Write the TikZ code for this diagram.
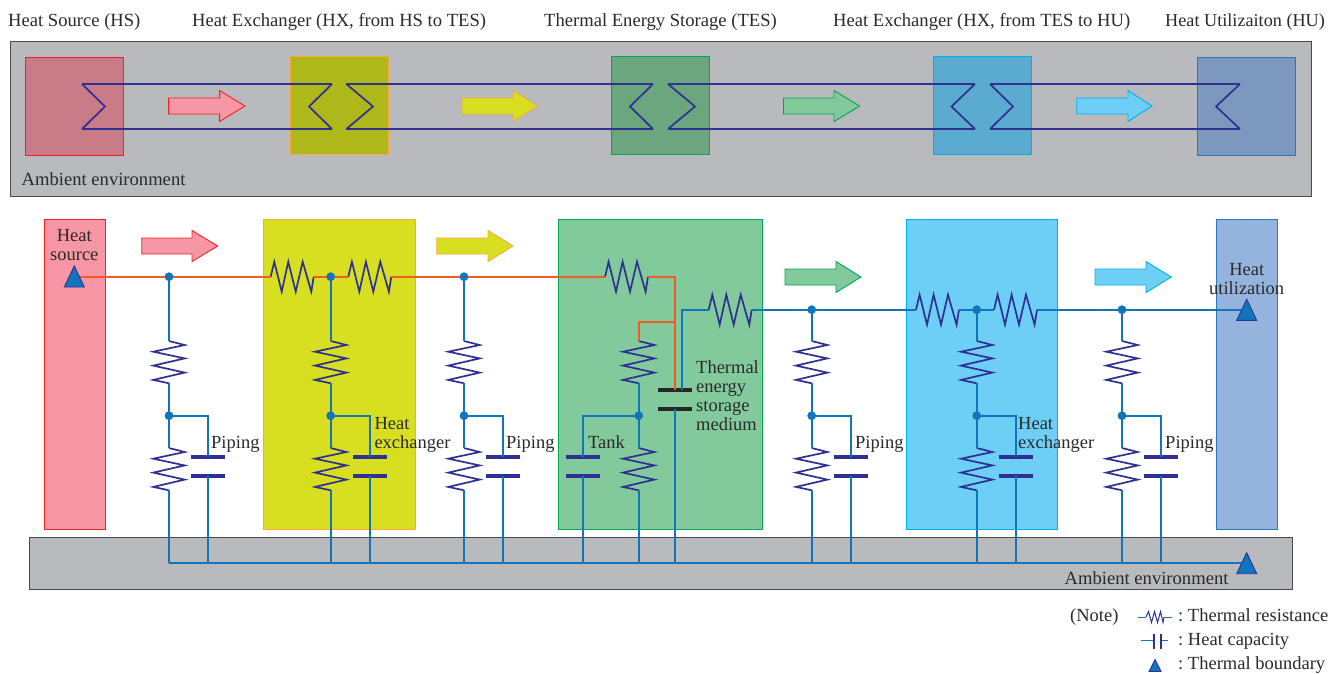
\documentclass[tikz,border=0pt]{standalone}
\usepackage{fontspec}
\setmainfont{Liberation Serif}
\usetikzlibrary{calc}
\definecolor{amb}{HTML}{B9BABE}
\definecolor{ambl}{HTML}{4A4A4C}
\definecolor{zigc}{HTML}{2E3192}
\definecolor{wireb}{HTML}{1175BC}
\definecolor{wireo}{HTML}{F15A29}
\definecolor{txt}{HTML}{2B2A2A}
\definecolor{pk}{HTML}{F797A5}\definecolor{pkl}{HTML}{ED2224}
\definecolor{yl}{HTML}{D7DF20}\definecolor{yll}{HTML}{F9A83B}
\definecolor{gn}{HTML}{82CA9C}\definecolor{gnl}{HTML}{00A651}
\definecolor{cy}{HTML}{6DCFF6}\definecolor{cyl}{HTML}{00AEEF}
\definecolor{bu}{HTML}{94B3DD}\definecolor{bul}{HTML}{2A78BA}
\definecolor{tpk}{HTML}{C97B87}
\definecolor{tyl}{HTML}{AEB81A}
\definecolor{tgn}{HTML}{6BA67E}
\definecolor{tcy}{HTML}{5AABCF}
\definecolor{tbu}{HTML}{7C98BE}
\tikzset{
  ambbox/.style={fill=amb,draw=ambl,line width=1pt},
  zone/.style={line width=0.9pt},
  zig/.style={draw=zigc,line width=1.7pt,line join=miter},
  bw/.style={draw=wireb,line width=1.7pt},
  ow/.style={draw=wireo,line width=1.7pt},
  plate/.style={draw=zigc,line width=3.8pt},
  blackplate/.style={draw=black!85,line width=3.8pt},
  jdot/.style={circle,fill=wireb,inner sep=0pt,minimum size=8.5pt},
  lbl/.style={text=txt,inner sep=0pt,font=\frenchspacing\fontsize{18.6}{19}\selectfont},
  lblb/.style={text=txt,inner sep=0pt,font=\frenchspacing\fontsize{18.5}{19}\selectfont},
  tri/.style={fill=wireb,draw=zigc,line width=0.9pt,line join=miter},
}
\newcommand{\zonebox}[6]{\path[zone,fill=#5,draw=#6] (#1,#2) rectangle (#3,#4);}
\newcommand{\blockarr}[6]{\path[zone,fill=#5,draw=#6] (#1,#4-8) -- (#2,#4-8) -- (#2,#4-15.5) -- (#3,#4) -- (#2,#4+15.5) -- (#2,#4+8) -- (#1,#4+8) -- cycle;}
\newcommand{\vres}[3]{\coordinate (#1-a) at (#2,#3);\coordinate (#1-b) at (#2,#3+42.3);
  \draw[zig] (#1-a) -- ++(15.7,4) -- ++(-31.4,6.7) -- ++(31.4,6.7) -- ++(-31.4,7.2) -- ++(31.4,7) -- ++(-31.4,7.3) -- (#1-b);}
\newcommand{\hres}[3]{\coordinate (#1-a) at (#2,#3);\coordinate (#1-b) at (#2+43,#3);
  \draw[zig] (#1-a) -- ++(3.6,-15) -- ++(7.4,30) -- ++(6.6,-30) -- ++(7.4,30) -- ++(7,-30) -- ++(8.6,30) -- (#1-b);}
\newcommand{\capac}[5][plate]{\coordinate (#2-a) at (#3,#4);\coordinate (#2-b) at (#3,#5);
  \draw[#1] ($(#2-a)+(-17,0)$) -- ($(#2-a)+(17,0)$);
  \draw[#1] ($(#2-b)+(-17,0)$) -- ($(#2-b)+(17,0)$);}
\newcommand{\triang}[3]{\coordinate (#1) at (#2,#3+10.7);
  \path[tri] (#2,#3) -- (#2+10,#3+21) -- (#2-10,#3+21) -- cycle;}
\newcommand{\branch}[3]{%
  \node[jdot] (#1j) at (#2,415.7) {};
  \vres{#1u}{#2}{341}
  \vres{#1l}{#2}{448}
  \capac{#1c}{#3}{457}{476}{}
  \draw[bw] (#1u-b) -- (#1j.center) -- (#1l-a);
  \draw[bw] (#1j.center) -| (#1c-a);
  \coordinate (#1g1) at (#2,563);\coordinate (#1g2) at (#3,563);
  \draw[bw] (#1l-b) -- (#1g1);
  \draw[bw] (#1c-b) -- (#1g2);
}
\begin{document}
\begin{tikzpicture}[x=1pt,y=-1pt]
\useasboundingbox (0,0) rectangle (1330,673);
% --- top panel ---
\path[ambbox] (10,41) rectangle (1311,196);
\zonebox{25}{57}{123.5}{155}{tpk}{pkl}
\zonebox{290}{56}{388}{154}{tyl}{yll}
\zonebox{611.5}{56}{709.5}{154}{tgn}{gnl}
\zonebox{933}{56}{1031.5}{154}{tcy}{cyl}
\zonebox{1197.5}{57}{1295.8}{155}{tbu}{bul}
\blockarr{168.6}{219.6}{245}{106}{pk}{pkl}
\blockarr{462}{513}{537.5}{106}{yl}{yll}
\blockarr{783.5}{834}{859.6}{106}{gn}{gnl}
\blockarr{1076.7}{1128}{1152}{106}{cy}{cyl}
\draw[zig] (82,84) -- (105,106.5) -- (82,129);
\draw[zig] (332,84) -- (309,106.5) -- (332,129);
\draw[zig] (346.4,84) -- (373,106.5) -- (346.4,129);
\draw[zig] (653,84) -- (630,106.5) -- (653,129);
\draw[zig] (668,84) -- (695,106.5) -- (668,129);
\draw[zig] (975,84) -- (951.5,106.5) -- (975,129);
\draw[zig] (990,84) -- (1013,106.5) -- (990,129);
\draw[zig] (1240,84) -- (1216,106.5) -- (1240,129);
\foreach \yy in {84,129}{
  \draw[zig] (82,\yy) -- (332,\yy);
  \draw[zig] (346.4,\yy) -- (653,\yy);
  \draw[zig] (668,\yy) -- (975,\yy);
  \draw[zig] (990,\yy) -- (1240,\yy);
}
\node[lbl,anchor=base west] (t1) at (8,26) {Heat Source (HS)};
\node[lbl,anchor=base west] (t2) at (192,26) {Heat Exchanger (HX, from HS to TES)};
\node[lbl,anchor=base west] (t3) at (544,26) {Thermal Energy Storage (TES)};
\node[lbl,anchor=base west] (t4) at (833,26) {Heat Exchanger (HX, from TES to HU)};
\node[lbl,anchor=base west,font=\frenchspacing\fontsize{18.2}{19}\selectfont] (t5) at (1165,26) {Heat Utilizaiton (HU)};
\node[lbl,anchor=base west] (a1) at (21.5,185) {Ambient environment};
% --- lower panel zones ---
\path[ambbox] (29,537) rectangle (1292,589.5);
\zonebox{44}{219}{105}{529}{pk}{pkl}
\zonebox{263.3}{219}{415}{529}{yl}{yll}
\zonebox{558.3}{219}{762.7}{529}{gn}{gnl}
\zonebox{906}{219}{1057.7}{529}{cy}{cyl}
\zonebox{1216.3}{219}{1277.3}{529}{bu}{bul}
\blockarr{141.7}{192}{217.7}{246}{pk}{pkl}
\blockarr{436.7}{488}{513}{246}{yl}{yll}
\blockarr{785}{836}{861}{277}{gn}{gnl}
\blockarr{1095}{1146}{1171.3}{277}{cy}{cyl}
% branches
\branch{p}{169}{208}
\branch{hxa}{330.7}{370}
\branch{q}{464}{503}
\branch{r}{811.7}{850.7}
\branch{hxb}{976.7}{1015.7}
\branch{s}{1122}{1161}
% TES internals
\node[jdot] (tj) at (638.7,415.7) {};
\vres{tu}{638.7}{341}
\vres{tl}{638.7}{448}
\capac{tc}{583}{457}{476}{}
\capac[blackplate]{tm}{675}{390}{409}{}
\coordinate (tmb) at (682,390);
\coordinate (tmc) at (682,309.7);
\coordinate (tg1) at (583,563);\coordinate (tg2) at (638.7,563);\coordinate (tg3) at (675,563);
\draw[bw] (tu-b) -- (tj.center) -- (tl-a);
\draw[bw] (tj.center) -| (tc-a);
\draw[bw] (tc-b) -- (tg1);
\draw[bw] (tl-b) -- (tg2);
\draw[bw] (tm-b) -- (tg3);
% top wires, resistors
\node[jdot] (n1) at (169,276.7) {};
\node[jdot] (n2) at (330.7,276.7) {};
\node[jdot] (n3) at (464,276.7) {};
\node[jdot] (n4) at (811.7,309.7) {};
\node[jdot] (n5) at (976.7,309.7) {};
\node[jdot] (n6) at (1122,309.7) {};
\hres{ra}{270.7}{276.7}
\hres{rb}{348.3}{276.7}
\hres{rc}{605}{276.7}
\hres{rd}{708.7}{309.7}
\hres{re}{916}{309.7}
\hres{rf}{994}{309.7}
\coordinate (hs) at (74.3,276.7);
\coordinate (oc) at (675,276.7);
\coordinate (od) at (675,322);
\coordinate (oe) at (638.7,322);
\draw[ow] (hs) -- (ra-a);
\draw[ow] (ra-b) -- (rb-a);
\draw[ow] (rb-b) -- (rc-a);
\draw[ow] (rc-b) -- (oc) -- (tm-a);
\draw[ow] (od) -- (oe) -- (tu-a);
\draw[bw] (tmb) -- (tmc) -- (rd-a);
\draw[bw] (rd-b) -- (re-a);
\draw[bw] (re-b) -- (rf-a);
\coordinate (hu) at (1246.7,309.7);
\draw[bw] (rf-b) -- (hu);
\foreach \nn/\pp in {n1/pu,n2/hxau,n3/qu,n4/ru,n5/hxbu,n6/su}{
  \draw[bw] (\nn.center) -- (\pp-a);
}
% bottom wire
\coordinate (gs) at (169,563);\coordinate (ge) at (1246.7,563);
\draw[bw] (gs) -- (ge);
% junction dots above the wires
\foreach \nn in {n1,n2,n3,n4,n5,n6,pj,hxaj,qj,rj,hxbj,sj,tj}{
  \fill[wireb] (\nn) circle (4.25pt);
}
\triang{b1}{74.3}{266}
\triang{b2}{1246.7}{299.3}
\triang{b3}{1246.7}{552.7}
% labels
\node[lblb,align=center,anchor=base] (l1) at (74.3,260) {Heat\\source};
\node[lblb,align=center,anchor=base] (l2) at (1246.7,294) {Heat\\utilization};
\node[lblb,anchor=base west] (l3) at (211,448) {Piping};
\node[lblb,anchor=base west] (l4) at (506,448) {Piping};
\node[lblb,anchor=base west] (l5) at (855,448) {Piping};
\node[lblb,anchor=base west] (l6) at (1165,448) {Piping};
\node[lblb,align=left,anchor=base west] (l7) at (374.3,448) {Heat\\exchanger};
\node[lblb,align=left,anchor=base west] (l8) at (1018,448) {Heat\\exchanger};
\node[lblb,anchor=base west] (l9) at (588,448) {Tank};
\node[lblb,align=left,anchor=base west] (l10) at (696,430) {Thermal\\energy\\storage\\medium};
\node[lbl,anchor=base west] (a2) at (1064.5,584) {Ambient environment};
% legend
\node[lblb,anchor=base west] (n0) at (1070,621.7) {(Note)};
\node[lblb,anchor=base west] (k1) at (1178,621.7) {: Thermal resistance};
\node[lblb,anchor=base west] (k2) at (1178,645.5) {: Heat capacity};
\node[lblb,anchor=base west] (k3) at (1178,669) {: Thermal boundary};
\coordinate (k1a) at (1138,617);\coordinate (k1b) at (1171.7,617);
\draw[wireb,line width=1pt] (k1a) -- (1146,617);
\draw[wireb,line width=1pt] (1164,617) -- (k1b);
\draw[zigc,line width=1pt] (1146,617) -- (1148.5,611.5) -- (1151.5,622.5) -- (1154.5,611.5) -- (1157.5,622.5) -- (1160.5,611.5) -- (1163,622.5) -- (1164,617);
\coordinate (k2a) at (1141,640.5);\coordinate (k2b) at (1154,640.5);
\coordinate (k2c) at (1161,640.5);\coordinate (k2d) at (1168,640.5);
\draw[wireb,line width=1pt] (k2a) -- (k2b);
\draw[wireb,line width=1pt] (k2c) -- (k2d);
\draw[zigc,line width=1.6pt] (1154,633.5) -- (1154,649);
\draw[zigc,line width=1.6pt] (1161,633.5) -- (1161,649);
\path[tri] (1155,659.5) -- (1161,671.5) -- (1149,671.5) -- cycle;
\end{tikzpicture}
\end{document}
